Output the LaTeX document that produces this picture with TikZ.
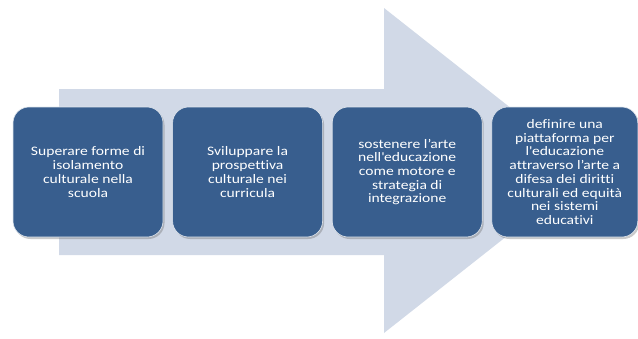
\documentclass[tikz,border=0pt]{standalone}
\usepackage{fontspec}
\setmainfont{Carlito}[FakeStretch=1.2, Ligatures=NoCommon]
\usepackage{tikz}
\usetikzlibrary{positioning, shadows}

\definecolor{stepblue}{RGB}{56,94,142}
\definecolor{arrowgray}{RGB}{209,217,231}

\begin{document}
\begin{tikzpicture}[
    x=1pt, y=-1pt,
    font=\fontsize{13}{13.7}\selectfont,
    stepbox/.style={
        rectangle,
        draw=white!85!stepblue,
        line width=0.6pt,
        fill=stepblue,
        text=white,
        rounded corners=16pt,
        align=center,
        minimum width=150pt,
        minimum height=130pt,
        inner sep=2pt,
        drop shadow={shadow xshift=1.5pt, shadow yshift=-2pt, opacity=0.35, fill=black!60}
    },
    bigarrow/.style={
        fill=arrowgray,
        draw=none
    }
]
    \useasboundingbox (0,0) rectangle (638,338);

    % background arrow
    \path [bigarrow] (59,89) -- (384,89) -- (384,8) -- (590,170.5)
        -- (384,333) -- (384,255) -- (59,255) -- cycle;

    % steps
    \node [stepbox] (isolamento) at (88,172) {Superare forme di\\ isolamento\\ culturale nella\\ scuola};
    \node [stepbox, right=9pt of isolamento] (prospettiva) {Sviluppare la\\ prospettiva\\ culturale nei\\ curricula};
    \node [stepbox, right=9pt of prospettiva] (arte) {sostenere l’arte\\ nell\textquotesingle educazione\\ come motore e\\ strategia di\\ integrazione};
    \node [stepbox, right=9pt of arte, minimum width=146pt] (piattaforma) {definire una\\ piattaforma per\\ l\textquotesingle educazione\\ attraverso l’arte a\\ difesa dei diritti\\ culturali ed equità\\ nei sistemi\\ educativi};

\end{tikzpicture}
\end{document}
